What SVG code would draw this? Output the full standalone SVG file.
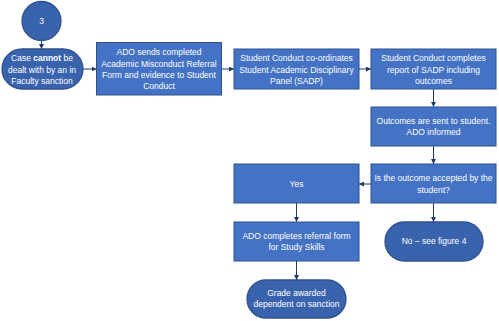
<svg xmlns="http://www.w3.org/2000/svg" width="499" height="321" viewBox="0 0 499 321">
<defs>
<marker id="ah" viewBox="0 0 10 10" refX="10" refY="5" markerWidth="5" markerHeight="5" orient="auto" markerUnits="userSpaceOnUse">
<path d="M0,0 L10,5 L0,10 z" fill="#203864"/>
</marker>
<style>
.box{fill:#4472C4;stroke:#2F528F;stroke-width:1}
.term{fill:#3A63AE;stroke:#2F528F;stroke-width:1.3}
.t{font-family:"Liberation Sans",Arial,sans-serif;font-size:8.5px;fill:#FFFFFF;text-anchor:middle}
.c{fill:none;stroke:#203864;stroke-width:1;marker-end:url(#ah)}
</style>
</defs>
<rect width="499" height="321" fill="#FFFFFF"/>
<g id="connectors">
<line class="c" x1="41.5" y1="40.5" x2="41.5" y2="49"/>
<line class="c" x1="83" y1="69" x2="96.5" y2="69"/>
<line class="c" x1="221.5" y1="69" x2="234" y2="69"/>
<line class="c" x1="359" y1="69" x2="371" y2="69"/>
<line class="c" x1="433.5" y1="89" x2="433.5" y2="107"/>
<line class="c" x1="433.5" y1="146" x2="433.5" y2="164"/>
<line class="c" x1="371" y1="184" x2="359" y2="184"/>
<line class="c" x1="296.5" y1="203" x2="296.5" y2="222"/>
<line class="c" x1="296.5" y1="261" x2="296.5" y2="280"/>
<line class="c" x1="433.5" y1="203" x2="433.5" y2="222"/>
</g>
<g id="n3">
<circle class="term" cx="41.5" cy="21" r="19.5"/>
<text class="t" x="41.5" y="24">3</text>
</g>
<g id="case">
<rect class="term" x="2" y="49" width="81" height="40" rx="20" ry="20"/>
<text class="t" x="42" y="61.3">Case <tspan font-weight="bold">cannot</tspan> be</text>
<text class="t" x="42" y="72.5">dealt with by an in</text>
<text class="t" x="42" y="83.7">Faculty sanction</text>
</g>
<g id="ado-sends">
<rect class="box" x="96.5" y="42.5" width="125" height="52.5"/>
<text class="t" x="159" y="55.3">ADO sends completed</text>
<text class="t" x="159" y="66.5">Academic Misconduct Referral</text>
<text class="t" x="159" y="77.7">Form and evidence to Student</text>
<text class="t" x="159" y="88.9">Conduct</text>
</g>
<g id="coordinates">
<rect class="box" x="234" y="49" width="125" height="40"/>
<text class="t" x="296.5" y="61.3">Student Conduct co-ordinates</text>
<text class="t" x="296.5" y="72.5">Student Academic Disciplinary</text>
<text class="t" x="296.5" y="83.7">Panel (SADP)</text>
</g>
<g id="report">
<rect class="box" x="371" y="49" width="125" height="40"/>
<text class="t" x="433.5" y="61.3">Student Conduct completes</text>
<text class="t" x="433.5" y="72.5">report of SADP including</text>
<text class="t" x="433.5" y="83.7">outcomes</text>
</g>
<g id="outcomes">
<rect class="box" x="371" y="107" width="125" height="39"/>
<text class="t" x="433.5" y="124.3">Outcomes are sent to student.</text>
<text class="t" x="433.5" y="135.3">ADO informed</text>
</g>
<g id="accepted">
<rect class="box" x="371" y="164" width="125" height="39"/>
<text class="t" x="433.5" y="181.3">Is the outcome accepted by the</text>
<text class="t" x="433.5" y="192.8">student?</text>
</g>
<g id="yes">
<rect class="box" x="234" y="164" width="125" height="39"/>
<text class="t" x="296.5" y="186.5">Yes</text>
</g>
<g id="ado-completes">
<rect class="box" x="234" y="222" width="125" height="39"/>
<text class="t" x="296.5" y="238.7">ADO completes referral form</text>
<text class="t" x="296.5" y="250.2">for Study Skills</text>
</g>
<g id="grade">
<rect class="term" x="247" y="280" width="99" height="38" rx="19" ry="19"/>
<text class="t" x="296.5" y="295.7">Grade awarded</text>
<text class="t" x="296.5" y="307.2">dependent on sanction</text>
</g>
<g id="no">
<rect class="term" x="385" y="222" width="98" height="39" rx="19.5" ry="19.5"/>
<text class="t" x="434" y="244">No – see figure 4</text>
</g>
</svg>
